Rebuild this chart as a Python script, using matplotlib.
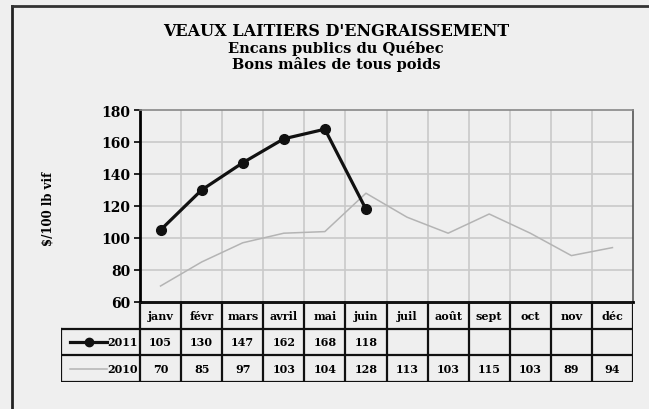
import matplotlib
matplotlib.use("Agg")
import matplotlib.pyplot as plt
from matplotlib.lines import Line2D

months = ["janv", "févr", "mars", "avril", "mai", "juin",
          "juil", "août", "sept", "oct", "nov", "déc"]
prix_2011 = [105, 130, 147, 162, 168, 118]
prix_2010 = [70, 85, 97, 103, 104, 128, 113, 103, 115, 103, 89, 94]
yticks = [60, 80, 100, 120, 140, 160, 180]

W, H = 649, 410
bg = "#efefef"
grid_c = "#c9c9c9"
gray_line = "#b4b4b4"
serif = "DejaVu Serif"

fig = plt.figure(figsize=(W / 100, H / 100), dpi=100)
fig.patch.set_facecolor(bg)


def fx(px):
    return px / W


def fy(py):
    return 1 - py / H


# outer frame (only top and left edges show in the crop)
fig.add_artist(Line2D([fx(12), fx(12)], [fy(7), fy(H + 5)], color="#222222", lw=2.0))
fig.add_artist(Line2D([fx(12), fx(W + 5)], [fy(7), fy(7)], color="#333333", lw=2.0))

# titles
fig.text(fx(336), fy(32), "VEAUX LAITIERS D'ENGRAISSEMENT", ha="center", va="center",
         family=serif, weight="bold", fontsize=11.5)
fig.text(fx(336), fy(48), "Encans publics du Québec", ha="center", va="center",
         family=serif, weight="bold", fontsize=10.5)
fig.text(fx(336), fy(64), "Bons mâles de tous poids", ha="center", va="center",
         family=serif, weight="bold", fontsize=10.5)

# main plot area
px_l, px_r, px_t, px_b = 140, 633, 111, 303
ax = fig.add_axes([fx(px_l), fy(px_b), fx(px_r - px_l), (px_b - px_t) / H])
ax.set_facecolor(bg)
x = list(range(len(months)))
ax.set_xlim(-0.5, len(months) - 0.5)
ax.set_ylim(60, 180)
ax.set_yticks(yticks)
ax.set_yticklabels([str(v) for v in yticks], family=serif, weight="bold", fontsize=10)
ax.set_xticks([])
ax.tick_params(axis="y", length=4, width=1.2, pad=3, direction="out")
for i in range(len(months) - 1):
    ax.axvline(i + 0.5, color=grid_c, lw=1.2, zorder=0)
for v in yticks[1:-1]:
    ax.axhline(v, color=grid_c, lw=1.2, zorder=0)
ax.spines["left"].set_linewidth(2.0)
ax.spines["bottom"].set_linewidth(2.0)
ax.spines["top"].set_color("#888888")
ax.spines["top"].set_linewidth(1.2)
ax.spines["right"].set_color("#555555")
ax.spines["right"].set_linewidth(1.2)

ax.plot(x, prix_2010, color=gray_line, lw=1.1, zorder=2)
ax.plot(x[:len(prix_2011)], prix_2011, color="#111111", lw=2.3, marker="o",
        markersize=7, zorder=3)

fig.text(fx(48), fy(209), "$/100 lb vif", rotation=90, ha="center", va="center",
         family=serif, weight="bold", fontsize=8.5)

# data table below the plot
tb_l, tb_b = 61, 383
unit = (px_r - px_l) / len(months)
tax = fig.add_axes([fx(tb_l), fy(tb_b), fx(px_r - tb_l), (tb_b - px_b) / H])
tax.set_xlim(-0.5 - (px_l - tb_l) / unit, len(months) - 0.5)
tax.set_ylim(0, 3)
tax.axis("off")
tax.patch.set_visible(False)
x0 = -0.5 - (px_l - tb_l) / unit
xr = len(months) - 0.5
lc = "#111111"
lw_t = 1.6
# horizontal lines
tax.plot([-0.5, xr], [3, 3], color=lc, lw=lw_t)
for yy in (2, 1, 0):
    tax.plot([x0, xr], [yy, yy], color=lc, lw=lw_t)
# vertical lines
tax.plot([x0, x0], [0, 2], color=lc, lw=lw_t)
for i in range(len(months) + 1):
    tax.plot([i - 0.5, i - 0.5], [0, 3], color=lc, lw=lw_t)

tkw = dict(ha="center", va="center", family=serif, weight="bold", fontsize=8)
for i, m in enumerate(months):
    tax.text(i, 2.5, m, **tkw)
for i, v in enumerate(prix_2011):
    tax.text(i, 1.5, str(v), **tkw)
for i, v in enumerate(prix_2010):
    tax.text(i, 0.5, str(v), **tkw)

# legend keys in the first column
lx0 = x0 + 0.22
lx1 = -0.5 - 0.8
tax.plot([lx0, lx1], [1.5, 1.5], color="#111111", lw=2.3)
tax.plot([(lx0 + lx1) / 2], [1.5], marker="o", color="#111111", markersize=6)
tax.plot([lx0, lx1], [0.5, 0.5], color=gray_line, lw=1.1)
tax.text(-0.5 - 0.06, 1.5, "2011", ha="right", va="center", family=serif,
         weight="bold", fontsize=8)
tax.text(-0.5 - 0.06, 0.5, "2010", ha="right", va="center", family=serif,
         weight="bold", fontsize=8)

fig.savefig("out.png", dpi=100, facecolor=bg)
